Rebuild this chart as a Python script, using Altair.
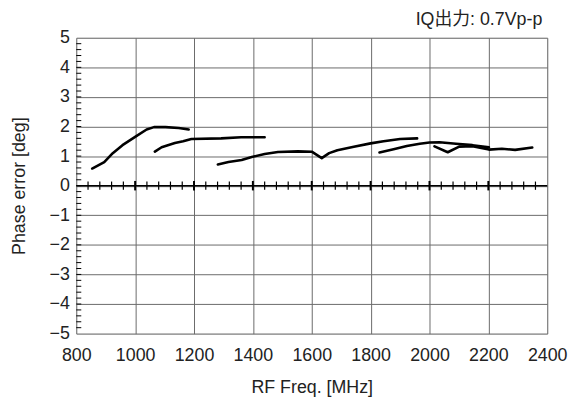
import altair as alt
import pandas as pd

# ---- data ----
seg1_f = [854, 895, 924, 957, 1000, 1039, 1064, 1103, 1148, 1182]
seg1_v = [0.58, 0.80, 1.10, 1.37, 1.65, 1.90, 1.98, 1.98, 1.95, 1.90]

seg2_f = [1067, 1090, 1135, 1163, 1191, 1292, 1360, 1440]
seg2_v = [1.15, 1.30, 1.44, 1.50, 1.58, 1.60, 1.64, 1.64]

seg3_f = [1281, 1317, 1362, 1396, 1440, 1485, 1553, 1600, 1634, 1659, 1687, 1743, 1800, 1844, 1900, 1958]
seg3_v = [0.72, 0.80, 0.87, 0.97, 1.07, 1.14, 1.16, 1.15, 0.93, 1.10, 1.20, 1.32, 1.43, 1.50, 1.58, 1.60]

seg4_f = [1830, 1878, 1923, 1967, 2000, 2034, 2090, 2146, 2202]
seg4_v = [1.12, 1.23, 1.34, 1.42, 1.46, 1.47, 1.42, 1.37, 1.30]

seg5_f = [2017, 2062, 2101, 2146, 2202, 2246, 2291, 2349]
seg5_v = [1.33, 1.13, 1.32, 1.33, 1.22, 1.25, 1.21, 1.29]

x_ticks = [800, 1000, 1200, 1400, 1600, 1800, 2000, 2200, 2400]
y_ticks = [-5, -4, -3, -2, -1, 0, 1, 2, 3, 4, 5]
zero_minor = [f for f in range(840, 2400, 40) if f % 200 != 0]
zero_major = [1000, 1200, 1400, 1600, 1800, 2000, 2200]
y_minor = [round(v * 0.2, 1) for v in range(-24, 25)]

title_text = "IQ出力: 0.7Vp-p"
x_title = "RF Freq. [MHz]"
y_title = "Phase error [deg]"

FONT = "Liberation Sans, Arial, Noto Sans CJK JP"
FS = 18

rows = []
for name, fs, vs in [("s1", seg1_f, seg1_v), ("s2", seg2_f, seg2_v), ("s3", seg3_f, seg3_v),
                     ("s4", seg4_f, seg4_v), ("s5", seg5_f, seg5_v)]:
    for i, (f, v) in enumerate(zip(fs, vs)):
        rows.append({"seg": name, "f": f, "v": v, "i": i})
df = pd.DataFrame(rows)

xs = alt.Scale(domain=[800, 2400], nice=False, zero=False)
ys = alt.Scale(domain=[-5, 5], nice=False, zero=False)

xaxis = alt.Axis(values=x_ticks, tickCount=20, format="d", grid=True, gridColor="#6a6a6a",
                 gridWidth=1, ticks=False, domain=False, labelPadding=13, labelFontSize=FS,
                 labelColor="#222", labelFont=FONT, title=x_title, titleFont=FONT,
                 titleFontSize=FS, titleFontWeight="normal", titleColor="#222", titlePadding=15,
                 labelFlush=False, labelOverlap=False)
yaxis = alt.Axis(values=y_ticks, tickCount=20, format="d", grid=True, gridColor="#6a6a6a",
                 gridWidth=1, ticks=False, domain=False, labelPadding=7, labelFontSize=FS,
                 labelColor="#222", labelFont=FONT, title=y_title, titleFont=FONT,
                 titleFontSize=FS, titleFontWeight="normal", titleColor="#222", titlePadding=21,
                 labelFlush=False, labelOverlap=False)

lines = alt.Chart(df).mark_line(color="black", strokeWidth=2.6, strokeCap="round",
                                strokeJoin="round").encode(
    x=alt.X("f:Q", scale=xs, axis=xaxis),
    y=alt.Y("v:Q", scale=ys, axis=yaxis),
    detail="seg:N",
    order="i:Q",
)

zero_df = pd.DataFrame({"y": [0]})
zero_line = alt.Chart(zero_df).mark_rule(color="black", strokeWidth=1.5).encode(
    y=alt.Y("y:Q", scale=ys),
)

zm = pd.DataFrame({"f": zero_minor, "a": [-0.14] * len(zero_minor), "b": [0.14] * len(zero_minor)})
zero_ticks = alt.Chart(zm).mark_rule(color="black", strokeWidth=1.2).encode(
    x=alt.X("f:Q", scale=xs), y=alt.Y("a:Q", scale=ys), y2="b:Q")

zM = pd.DataFrame({"f": zero_major, "a": [-0.16] * len(zero_major), "b": [0.16] * len(zero_major)})
zero_ticks_major = alt.Chart(zM).mark_rule(color="black", strokeWidth=2).encode(
    x=alt.X("f:Q", scale=xs), y=alt.Y("a:Q", scale=ys), y2="b:Q")

ym = pd.DataFrame({"v": y_minor, "a": [800] * len(y_minor), "b": [817] * len(y_minor)})
y_minor_ticks = alt.Chart(ym).mark_rule(color="black", strokeWidth=1).encode(
    y=alt.Y("v:Q", scale=ys), x=alt.X("a:Q", scale=xs), x2="b:Q")

chart = alt.layer(lines, y_minor_ticks, zero_line, zero_ticks, zero_ticks_major).properties(
    width=476, height=299,
    autosize=alt.AutoSizeParams(type="none"),
    padding={"left": 69, "top": 28, "right": 22, "bottom": 63},
    title=alt.TitleParams(title_text, anchor="end", frame="group", font=FONT, fontSize=FS,
                          fontWeight="normal", color="#222", offset=0, dx=-5),
).configure_view(stroke="black", strokeWidth=2.2).configure(background="white")

chart.save("out.html", embed_options={"renderer": "svg", "actions": False})
